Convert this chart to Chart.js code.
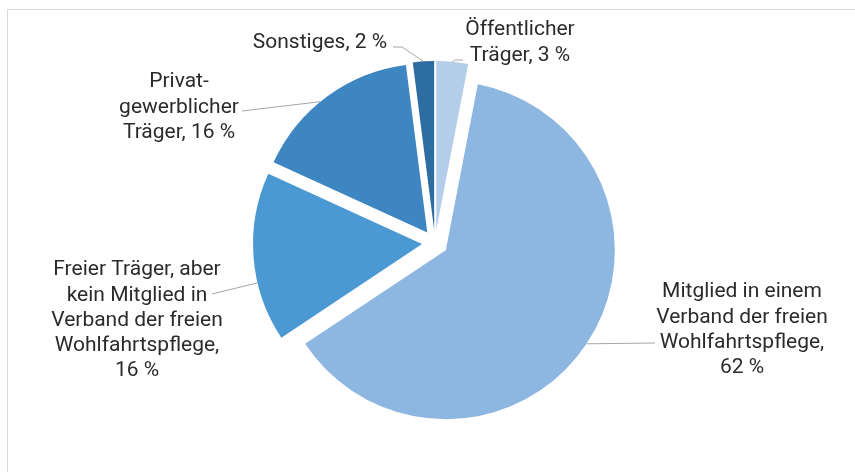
<!DOCTYPE html>
<html>
<head>
<meta charset="utf-8">
<script src="https://cdn.jsdelivr.net/npm/chart.js@4.4.1/dist/chart.umd.min.js"></script>
<style>
    html, body { margin: 0; padding: 0; background: #fff; }
    #frame {
        position: absolute; left: 7px; top: 9px; width: 848px; height: 463px;
        border-top: 1px solid #d9d9d9; border-left: 1px solid #d9d9d9;
    }
    #wrap { position: absolute; left: 0; top: 0; width: 855px; height: 472px; }
</style>
</head>
<body>
<div id="frame"></div>
<div id="wrap"><canvas id="pieChart"></canvas></div>
<script>
// Slices, clockwise from 12 o'clock
const categories = [
    ['Öffentlicher', 'Träger'],
    ['Mitglied in einem', 'Verband der freien', 'Wohlfahrtspflege'],
    ['Freier Träger, aber', 'kein Mitglied in', 'Verband der freien', 'Wohlfahrtspflege'],
    ['Privat-', 'gewerblicher', 'Träger'],
    ['Sonstiges']
];
const shares = [3, 62, 16, 16, 2];
const sliceColors = ['#B4CEEA', '#8DB6E1', '#4A99D3', '#3D86C1', '#2D6DA1'];

// Where each label sits (first line centre), where its leader meets the slice, and the leader path
const labelLayout = [
    { x: 520, y: 30, at: 0.5, ownLine: false, leader: [[455, 60], [463, 60]] },
    { x: 742, y: 292, at: 0.5, ownLine: true, leader: [[655, 343]] },
    { x: 137, y: 270, at: 0.35, ownLine: true, leader: [[212, 294]] },
    { x: 179, y: 82, at: 0.45, ownLine: false, leader: [[242, 111]] },
    { x: 320, y: 43, at: 0.5, ownLine: false, leader: [[402, 47], [393, 47]] }
];

const EXPLODE = 13;
const LINE_HEIGHT = 25.3;

function labelText(i) {
    const lines = categories[i].slice();
    const last = lines.length - 1;
    if (labelLayout[i].ownLine) {
        lines[last] += ',';
        lines.push(`${shares[i]} %`);
    } else {
        lines[last] += `, ${shares[i]} %`;
    }
    return lines;
}

// Pull every slice out from the centre along its middle angle
const explodePlugin = {
    id: 'explode',
    beforeDatasetsDraw(chart) {
        const area = chart.chartArea;
        const cx = (area.left + area.right) / 2;
        const cy = (area.top + area.bottom) / 2;
        chart.getDatasetMeta(0).data.forEach(arc => {
            const mid = (arc.startAngle + arc.endAngle) / 2;
            arc.x = cx + Math.cos(mid) * EXPLODE;
            arc.y = cy + Math.sin(mid) * EXPLODE;
        });
    }
};

// Data labels with leader lines
const labelPlugin = {
    id: 'sliceLabels',
    afterDatasetsDraw(chart) {
        const ctx = chart.ctx;
        const arcs = chart.getDatasetMeta(0).data;
        ctx.save();
        arcs.forEach((arc, i) => {
            const lay = labelLayout[i];
            const a = arc.startAngle + (arc.endAngle - arc.startAngle) * lay.at;
            const sx = arc.x + Math.cos(a) * arc.outerRadius;
            const sy = arc.y + Math.sin(a) * arc.outerRadius;

            ctx.strokeStyle = '#a6a6a6';
            ctx.lineWidth = 1;
            ctx.beginPath();
            ctx.moveTo(sx, sy);
            lay.leader.forEach(p => ctx.lineTo(p[0], p[1]));
            ctx.stroke();

            ctx.fillStyle = '#2b2b2b';
            ctx.font = '21px Roboto';
            ctx.textAlign = 'center';
            ctx.textBaseline = 'middle';
            labelText(i).forEach((line, j) => {
                ctx.fillText(line, lay.x, lay.y + j * LINE_HEIGHT);
            });
        });
        ctx.restore();
    }
};

const pieChart = new Chart(document.getElementById('pieChart').getContext('2d'), {
    type: 'pie',
    data: {
        labels: categories.map(c => c.join(' ')),
        datasets: [{
            data: shares,
            backgroundColor: sliceColors,
            borderWidth: 0,
            radius: 169
        }]
    },
    options: {
        responsive: true,
        maintainAspectRatio: false,
        animation: false,
        events: [],
        layout: {
            padding: { left: 15, top: 14, right: 0, bottom: 0 }
        },
        plugins: {
            legend: { display: false },
            tooltip: { enabled: false }
        }
    },
    plugins: [explodePlugin, labelPlugin]
});
</script>
</body>
</html>
